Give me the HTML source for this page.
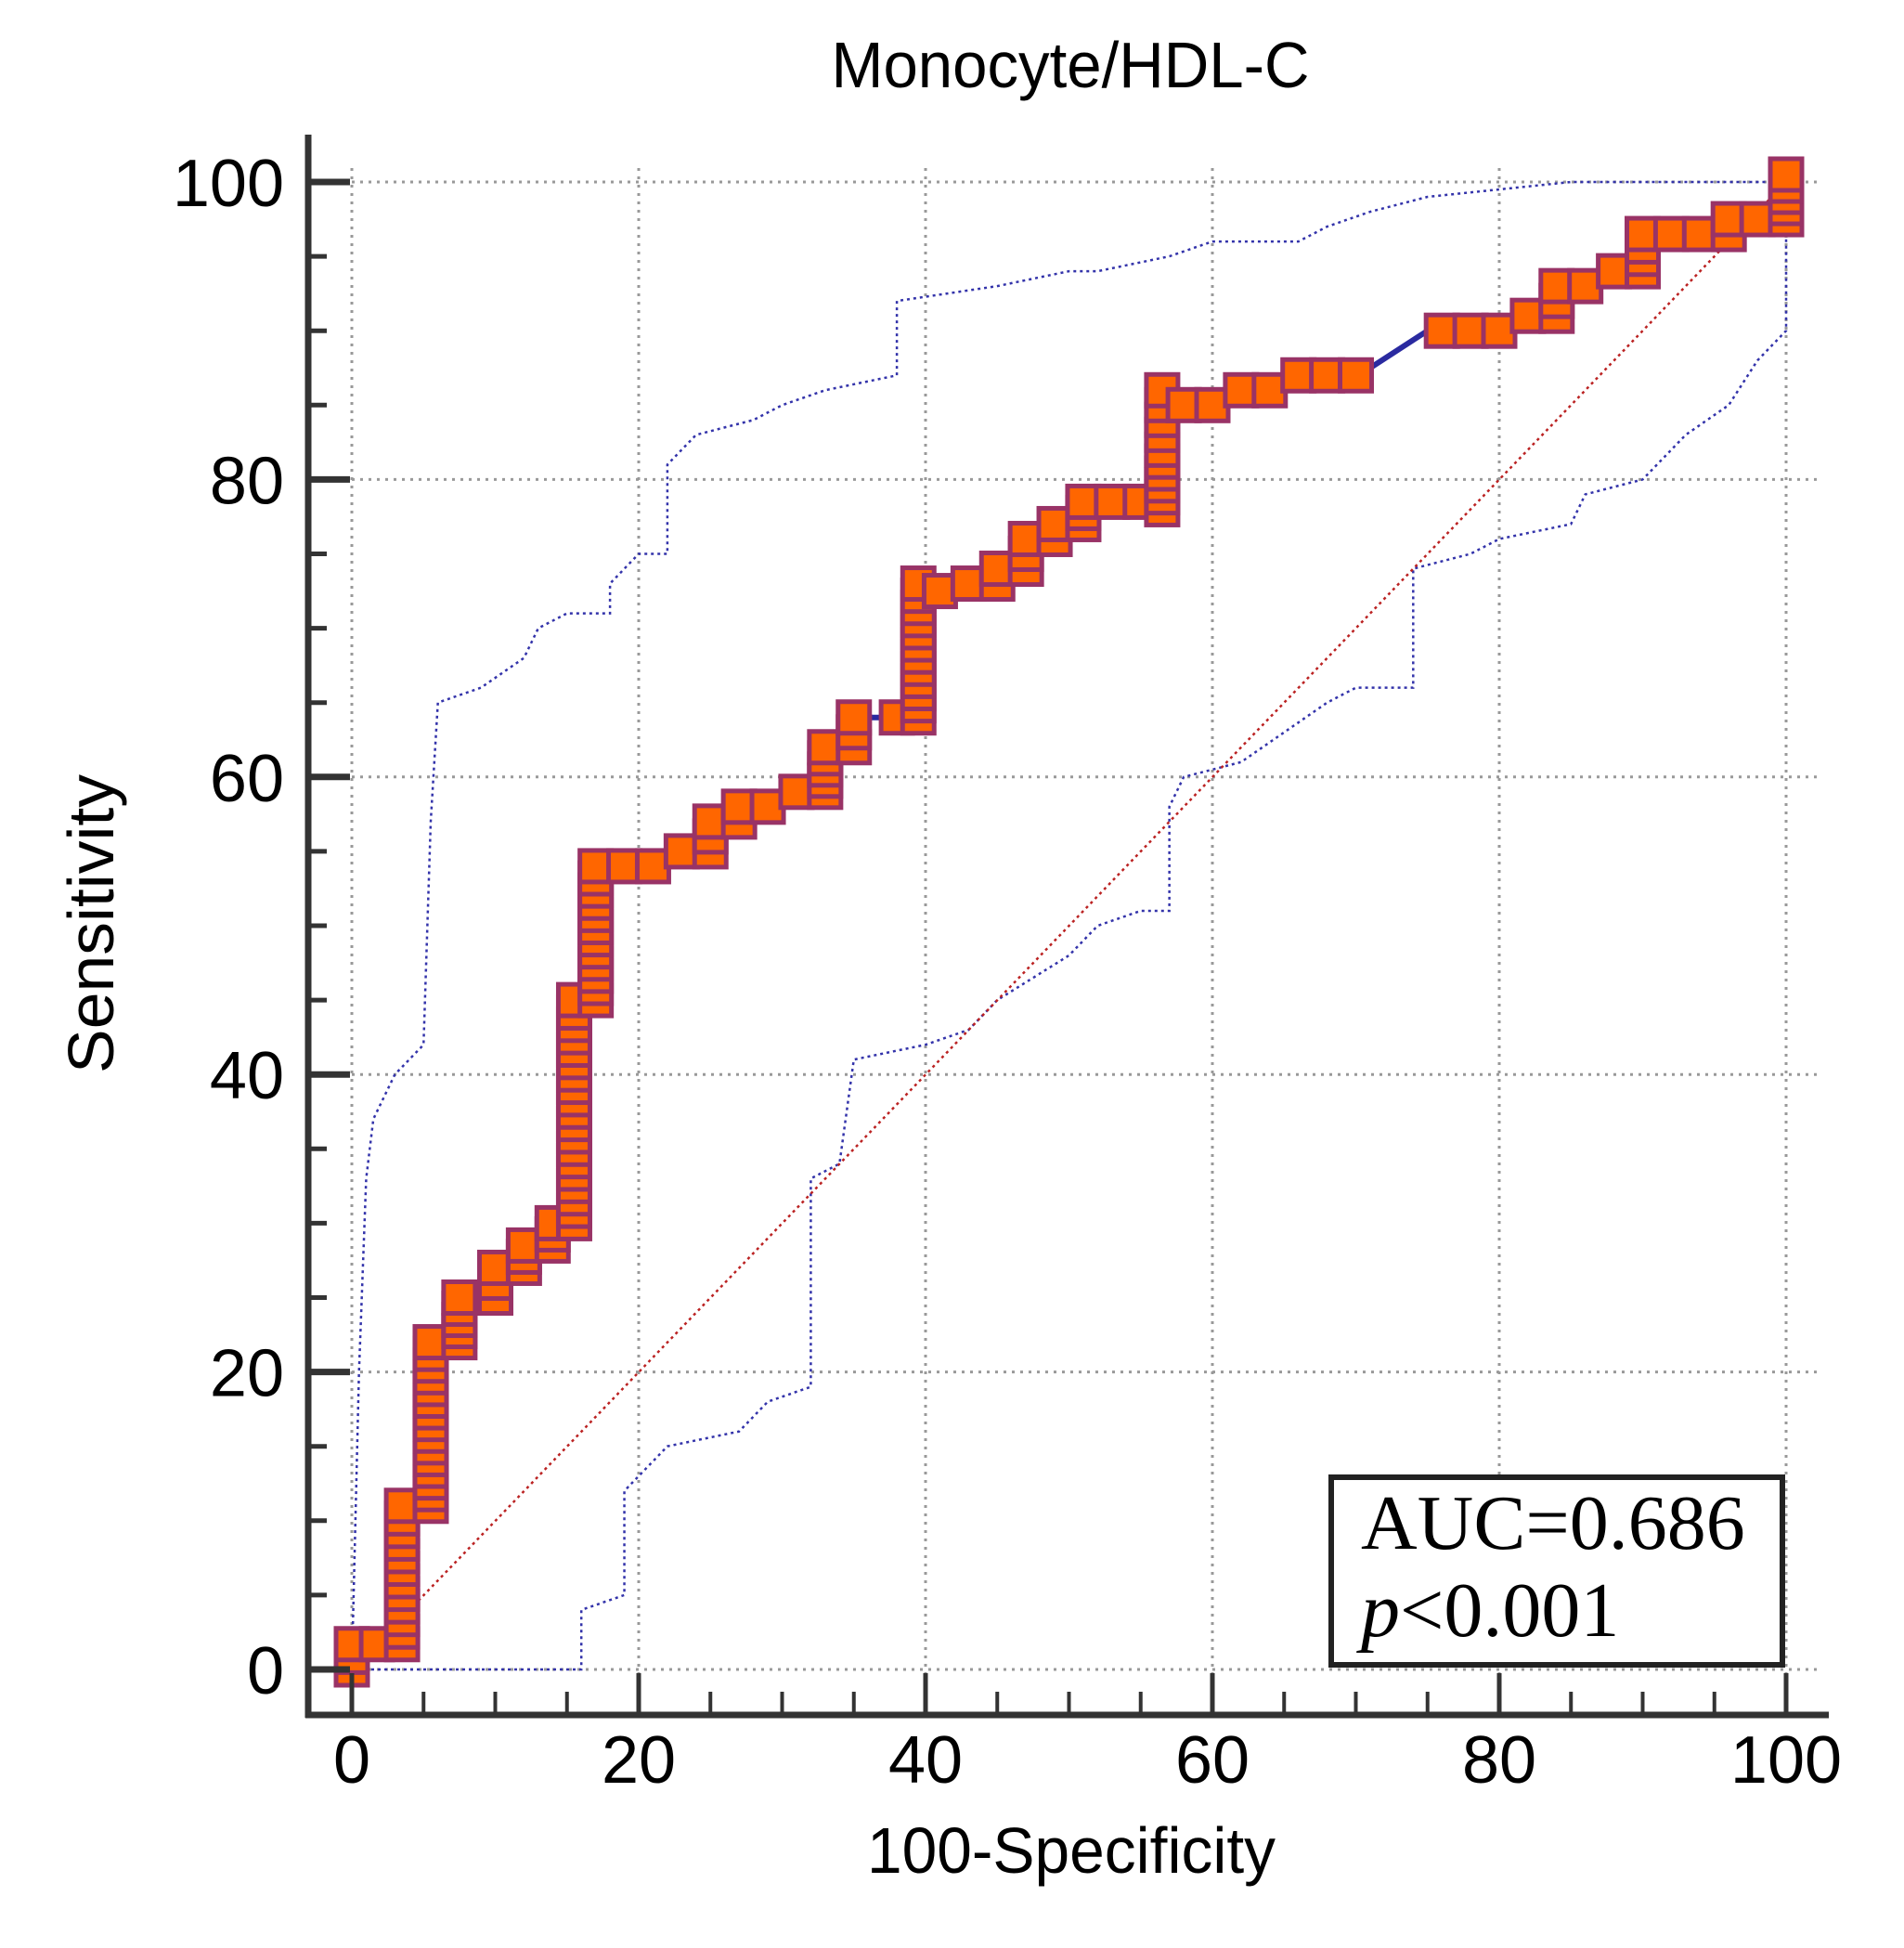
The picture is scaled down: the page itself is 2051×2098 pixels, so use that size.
<!DOCTYPE html>
<html><head><meta charset="utf-8"><style>body{margin:0;background:#fff}svg{display:block}</style></head>
<body>
<svg id="s" width="2051" height="2098" viewBox="0 0 2051 2098" xmlns="http://www.w3.org/2000/svg">
<rect width="2051" height="2098" fill="#fff"/>
<g id="grid" stroke="#999" stroke-width="3" stroke-dasharray="3 6"></g>
<g id="bands" fill="none" stroke="#3333aa" stroke-width="2.5" stroke-dasharray="3 4"></g>
<line x1="441" y1="1734" x2="1924" y2="196" stroke="#b22" stroke-width="2.5" stroke-dasharray="3 4"/>
<g id="roc"></g>
<g id="axes" stroke="#333" stroke-width="7"></g>
<g font-family="Liberation Sans, Arial, sans-serif" fill="#000">
<text x="1153" y="94" font-size="70" text-anchor="middle" textLength="515" lengthAdjust="spacingAndGlyphs">Monocyte/HDL-C</text>
<text x="1154" y="2017" font-size="70" text-anchor="middle" textLength="440" lengthAdjust="spacingAndGlyphs">100-Specificity</text>
<text transform="translate(122,995) rotate(-90)" font-size="70" text-anchor="middle" textLength="322" lengthAdjust="spacingAndGlyphs">Sensitivity</text>
<g id="labels" font-size="72"></g>
</g>
<rect x="1434" y="1591" width="486" height="202" fill="#fff" stroke="#222" stroke-width="6"/>
<g font-family="Liberation Serif, Times New Roman, serif" font-size="84" fill="#000">
<text x="1466" y="1668">AUC=0.686</text>
<text x="1466" y="1762"><tspan font-style="italic">p</tspan>&lt;0.001</text>
</g>
</svg>
<script>
const NS="http://www.w3.org/2000/svg";
const X=v=>379+15.45*v, Y=v=>1798-16.02*v;
function el(p,t,a){const e=document.createElementNS(NS,t);for(const k in a)e.setAttribute(k,a[k]);document.getElementById(p).appendChild(e);return e;}
// grid
for(let v=0;v<=100;v+=20){
 el("grid","line",{x1:X(v),y1:Y(100)-15,x2:X(v),y2:Y(0)+5});
 el("grid","line",{x1:X(0),y1:Y(v),x2:X(100)+35,y2:Y(v)});
}
// axes
const ax=332, ay=1847;
el("axes","line",{x1:ax,y1:145,x2:ax,y2:ay+3});
el("axes","line",{x1:ax-3,y1:ay,x2:1970,y2:ay});
for(let v=0;v<=100;v+=5){
 const maj=v%20==0;
 el("axes","line",{x1:ax,y1:Y(v),x2:ax+(maj?45:20),y2:Y(v),"stroke-width":maj?7:5});
 el("axes","line",{x1:X(v),y1:ay,x2:X(v),y2:ay-(maj?45:25),"stroke-width":maj?5:4});
}
for(let v=0;v<=100;v+=20){
 let t=el("labels","text",{x:306,y:Y(v)+26,"text-anchor":"end"});t.textContent=v;
 t=el("labels","text",{x:X(v),y:1920,"text-anchor":"middle"});t.textContent=v;
}
// bands
const up=[[0,0],[0.5,20],[1,33],[1.5,37],[3,40],[5,42],[5.5,57],[6,65],[9,66],[12,68],[13,70],[15,71],[18,71],[18,73],[20,75],[22,75],[22,81],[24,83],[28,84],[30,85],[33,86],[38,87],[38,92],[45,93],[50,94],[52,94],[57,95],[60,96],[66,96],[68,97],[71,98],[75,99],[85,100],[100,100]];
const lo=[[0,0],[16,0],[16,4],[19,5],[19,12],[22,15],[27,16],[29,18],[32,19],[32,33],[34,34],[35,41],[40,42],[43,43],[45,45],[50,48],[52,50],[55,51],[57,51],[57,58],[58,60],[62,61],[65,63],[68,65],[70,66],[74,66],[74,74],[78,75],[80,76],[85,77],[86,79],[90,80],[93,83],[96,85],[98,88],[100,90],[100,100]];
for(const b of [up,lo]) el("bands","polyline",{points:b.map(p=>X(p[0])+","+Y(p[1])).join(" ")});
// roc
const r=[[0,0],[0,1.7],[3.5,1.7],[3.5,11],[5.5,11],[5.5,22],[7.5,22],[7.5,25],[10,25],[10,27],[12,27],[12,28.5],[14,28.5],[14,30],[15.5,30],[15.5,45],[17,45],[17,54],[19,54],[21,54],[23,55],[25,55],[25,57],[27,57],[27,58],[29,58],[31,59],[33,59],[33,62],[35,62],[35,64],[38,64],[39.5,64],[39.5,73],[41,72.5],[43,73],[45,73],[45,74],[47,74],[47,76],[49,76],[49,77],[51,77],[51,78.5],[55,78.5],[56.5,78],[56.5,82],[56.5,84],[56.5,86],[58,85],[60,85],[62,86],[64,86],[66,87],[68,87],[70,87],[71,87.5],[75,90],[76,90],[80,90],[82,91],[84,91],[84,93],[86,93],[88,94],[90,94],[90,96.5],[96,96.5],[96,97.5],[98,97.5],[100,97.5],[100,100.5]];
el("roc","polyline",{points:r.map(p=>X(p[0])+","+Y(p[1])).join(" "),fill:"none",stroke:"#2a2aa0","stroke-width":6});
const jumps=new Set(["38,64","71,87.5","75,90"]);
let sq=[];
for(let i=0;i<r.length-1;i++){
 const a=r[i],b=r[i+1];
 if(jumps.has(a.join(","))&&!(a[0]==38))continue;
 const x1=X(a[0]),y1=Y(a[1]),x2=X(b[0]),y2=Y(b[1]);
 const d=Math.hypot(x2-x1,y2-y1);
 const skip=(a[0]==35&&b[0]==38)||(a[0]==71&&b[0]==75);
 if(skip){sq.push([x1,y1]);continue;}
 const n=Math.max(1,Math.round(d/(Math.abs(x2-x1)>Math.abs(y2-y1)?30:13)));
 for(let k=0;k<n;k++)sq.push([x1+(x2-x1)*k/n,y1+(y2-y1)*k/n]);
}
sq.push([X(100),Y(100.5)]);
for(const p of sq) el("roc","rect",{x:p[0]-17,y:p[1]-17,width:34,height:34,fill:"#ff6600",stroke:"#993366","stroke-width":5});
</script>
</body></html>
